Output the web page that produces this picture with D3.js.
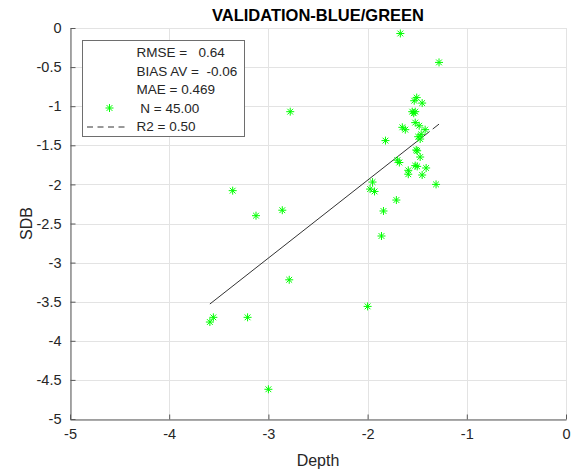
<!DOCTYPE html>
<html>
<head>
<meta charset="utf-8">
<script src="https://cdn.jsdelivr.net/npm/d3@7"></script>
<style>
    body { margin: 0; background: #fff; }
    text { font-family: "Liberation Sans", Arial, sans-serif; fill: #262626; }
</style>
</head>
<body>
<svg id="chart" width="577" height="472"></svg>
<script>
// measured depth vs. satellite derived bathymetry
const depth = [-3.36, -3.125, -2.86, -2.79, -3.59, -3.555, -3.21, -3.0, -2.78,
    -2.0, -1.86, -1.84, -1.71, -1.31, -1.95, -1.975, -1.93, -1.59, -1.59, -1.45,
    -1.67, -1.28, -1.505, -1.53, -1.45, -1.55, -1.52, -1.535, -1.52, -1.48,
    -1.65, -1.62, -1.42, -1.49, -1.82, -1.51, -1.50, -1.47, -1.70, -1.68,
    -1.52, -1.50, -1.41, -1.47, -1.46];
const sdb = [-2.08, -2.40, -2.33, -3.22, -3.76, -3.70, -3.70, -4.62, -1.07,
    -3.56, -2.66, -2.34, -2.20, -2.00, -1.97, -2.06, -2.09, -1.82, -1.87, -1.88,
    -0.07, -0.44, -0.89, -0.93, -0.96, -1.07, -1.07, -1.09, -1.21, -1.25,
    -1.27, -1.30, -1.30, -1.39, -1.44, -1.56, -1.57, -1.65, -1.69, -1.72,
    -1.76, -1.77, -1.79, -1.42, -1.36];

// fitted line
const fitRange = [-3.59, -1.28];
const fitSlope = 0.996, fitIntercept = 0.046;

const xTicks = [-5, -4, -3, -2, -1, 0];
const yTicks = [0, -0.5, -1, -1.5, -2, -2.5, -3, -3.5, -4, -4.5, -5];

const legendLines = ['RMSE =   0.64', 'BIAS AV =  -0.06', 'MAE = 0.469', ' N = 45.00', 'R2 = 0.50'];

const svg = d3.select('#chart'),
    plotLeft = 70, plotRight = 566, plotTop = 28, plotBottom = 419,
    green = '#00ff00';

const x = d3.scaleLinear().domain([-5, 0]).range([plotLeft, plotRight]);
const y = d3.scaleLinear().domain([-5, 0]).range([plotBottom, plotTop]);

// grid
const grid = svg.append('g').attr('stroke', '#e3e3e3').attr('stroke-width', 1);
grid.selectAll('.gx').data(xTicks).enter().append('line')
    .attr('x1', d => Math.round(x(d)) + 0.5).attr('x2', d => Math.round(x(d)) + 0.5)
    .attr('y1', plotTop).attr('y2', plotBottom);
grid.selectAll('.gy').data(yTicks).enter().append('line')
    .attr('y1', d => Math.round(y(d)) + 0.5).attr('y2', d => Math.round(y(d)) + 0.5)
    .attr('x1', plotLeft).attr('x2', plotRight);

// axes
const xAxis = svg.append('g')
    .attr('transform', `translate(0,${Math.round(plotBottom) + 0.5})`)
    .call(d3.axisBottom(x).tickValues(xTicks).tickSizeInner(-5).tickSizeOuter(0).tickPadding(9)
        .tickFormat(d => d));
const yAxis = svg.append('g')
    .attr('transform', `translate(${plotLeft + 0.5},0)`)
    .call(d3.axisLeft(y).tickValues(yTicks).tickSizeInner(-5).tickSizeOuter(0).tickPadding(9)
        .tickFormat(d => d));

[xAxis, yAxis].forEach(a => {
    a.select('.domain').attr('stroke', '#595959');
    a.selectAll('.tick line').attr('stroke', '#595959');
    a.selectAll('.tick text')
        .style('font-family', '"Liberation Sans", Arial, sans-serif')
        .style('font-size', '14.5px')
        .attr('fill', '#262626');
});

// fit line
const fitLine = svg.append('path')
    .attr('d', d3.line()(fitRange.map(d => [x(d), y(fitSlope * d + fitIntercept)])))
    .attr('fill', 'none')
    .attr('stroke', '#333')
    .attr('stroke-width', 1);
const len = fitLine.node().getTotalLength();
fitLine.attr('stroke-dasharray', `${len - 12},4,8`);

// asterisk markers
function star(g, cx, cy, r) {
    const d = r * 0.72;
    g.append('path')
        .attr('d', `M${cx - r},${cy}H${cx + r}M${cx},${cy - r}V${cy + r}` +
            `M${cx - d},${cy - d}L${cx + d},${cy + d}M${cx - d},${cy + d}L${cx + d},${cy - d}`)
        .attr('stroke', green)
        .attr('stroke-width', 1)
        .attr('fill', 'none');
}

const pts = svg.append('g');
depth.forEach((d, i) => star(pts, x(d), y(sdb[i]), 4));

// title and labels
svg.append('text')
    .text('VALIDATION-BLUE/GREEN')
    .attr('x', (plotLeft + plotRight) / 2)
    .attr('y', 21)
    .attr('text-anchor', 'middle')
    .style('font-weight', 'bold')
    .style('font-size', '16.5px')
    .style('fill', '#000');

svg.append('text')
    .text('Depth')
    .attr('x', (plotLeft + plotRight) / 2)
    .attr('y', 466)
    .attr('text-anchor', 'middle')
    .style('font-size', '16px');

svg.append('text')
    .text('SDB')
    .attr('transform', `translate(32,${(plotTop + plotBottom) / 2}) rotate(-90)`)
    .attr('text-anchor', 'middle')
    .style('font-size', '16px');

// legend
const lg = svg.append('g');
lg.append('rect')
    .attr('x', 82.5).attr('y', 40.5)
    .attr('width', 162).attr('height', 96)
    .attr('fill', '#fff')
    .attr('stroke', '#6e6e6e')
    .attr('stroke-width', 1);

legendLines.forEach((t, i) => {
    lg.append('text')
        .text(t)
        .attr('x', 136.5)
        .attr('y', 57 + i * 18.6)
        .style('white-space', 'pre')
        .style('font-size', '13.5px');
});
star(lg, 109.5, 108, 4);
lg.append('line')
    .attr('x1', 87).attr('x2', 129)
    .attr('y1', 127).attr('y2', 127)
    .attr('stroke', '#333')
    .attr('stroke-dasharray', '6,4.5');
</script>
</body>
</html>
